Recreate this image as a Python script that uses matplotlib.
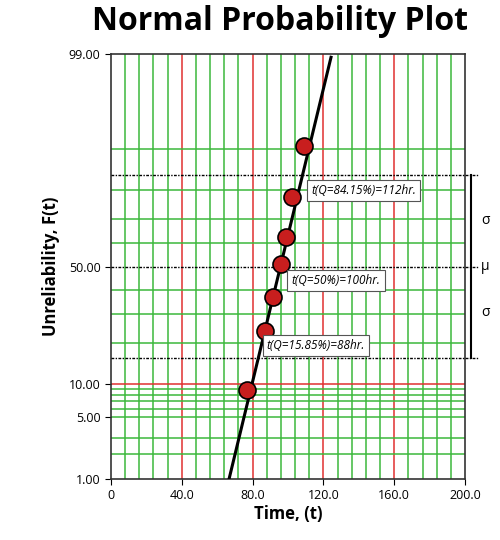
import matplotlib
matplotlib.use("Agg")
import matplotlib.pyplot as plt
from statistics import NormalDist

nd = NormalDist()
def z(p): return nd.inv_cdf(p / 100.0)

# data
times = [76.8, 87.0, 91.5, 96.0, 98.9, 102.3, 109.0]
unrel = [8.8, 24.0, 36.9, 51.0, 62.7, 77.6, 90.6]
fit_t = [66.7, 124.3]
fit_p = [1.0, 98.9]
ytick_p = [1.0, 5.0, 10.0, 50.0, 99.0]
ytick_lbl = ["1.00", "5.00", "10.00", "50.00", "99.00"]
xtick_v = [0, 40, 80, 120, 160, 200]
xtick_lbl = ["0", "40.0", "80.0", "120.0", "160.0", "200.0"]
green_p = [2, 3, 5, 6, 7, 8, 9, 20, 30, 40, 60, 70, 80, 90]
red_p = [10]
annot_lbl = ["t(Q=84.15%)=112hr.", "t(Q=50%)=100hr.", "t(Q=15.85%)=88hr."]

plt.rcParams['font.family'] = ['Open Sans', 'DejaVu Sans']
fig = plt.figure(figsize=(5, 5.4), dpi=100)
ax = fig.add_axes([111/500, 1-479/540, 354/500, 425/540])
ax.set_xlim(0, 200)
ax.set_ylim(z(1), z(99))

for v in range(8, 200, 8):
    c = '#e03030' if v % 40 == 0 else '#3cb83c'
    ax.axvline(v, color=c, lw=1.1, zorder=1)
for p in green_p:
    ax.axhline(z(p), color='#3cb83c', lw=1.1, zorder=1)
for p in red_p:
    ax.axhline(z(p), color='#e03030', lw=1.1, zorder=1)

for p in [84.15, 50, 15.85]:
    ax.plot([0, 1.04], [z(p)]*2, transform=ax.get_yaxis_transform(), color='k',
            ls=(0, (2, 1, 1, 1)), lw=1, clip_on=False, zorder=3)

ax.plot(fit_t, [z(p) for p in fit_p], color='k', lw=2.2, zorder=4)
ax.scatter(times, [z(p) for p in unrel], s=150, color='#c81e1e', edgecolor='k', lw=1.2, zorder=5)

box = dict(boxstyle='square,pad=0.35', fc='white', ec='#555', lw=0.8)
ax.text(113, z(79.8), annot_lbl[0], style='italic', fontsize=8.5, va='center', zorder=6, bbox=box)
ax.text(102, z(43.8), annot_lbl[1], style='italic', fontsize=8.5, va='center', zorder=6, bbox=box)
ax.text(88, z(19.3), annot_lbl[2], style='italic', fontsize=8.5, va='center', zorder=6, bbox=box)

yt = ax.get_yaxis_transform()
ax.plot([1.017, 1.017], [z(84.15), z(15.85)], transform=yt, color='k', lw=1.5, clip_on=False)
ax.text(1.045, z(84.15) / 2, "σ", transform=yt, fontsize=10, va='center', ha='left')
ax.text(1.045, 0, "μ", transform=yt, fontsize=10, va='center', ha='left')
ax.text(1.045, z(15.85) / 2, "σ", transform=yt, fontsize=10, va='center', ha='left')

ax.set_yticks([z(p) for p in ytick_p])
ax.set_yticklabels(ytick_lbl, fontsize=9)
ax.set_xticks(xtick_v)
ax.set_xticklabels(xtick_lbl, fontsize=9)
ax.tick_params(length=4, color='k')
for s in ax.spines.values():
    s.set_color('#333')
    s.set_linewidth(1.2)
ax.set_xlabel("Time, (t)", fontsize=12, fontweight='bold', labelpad=2)
ax.set_ylabel("Unreliability, F(t)", fontsize=12, fontweight='bold', labelpad=6)
fig.text(0.56, 1-22/540, "Normal Probability Plot", ha='center', va='center',
         fontsize=23, fontweight='bold')
fig.savefig("out.png", dpi=100)
